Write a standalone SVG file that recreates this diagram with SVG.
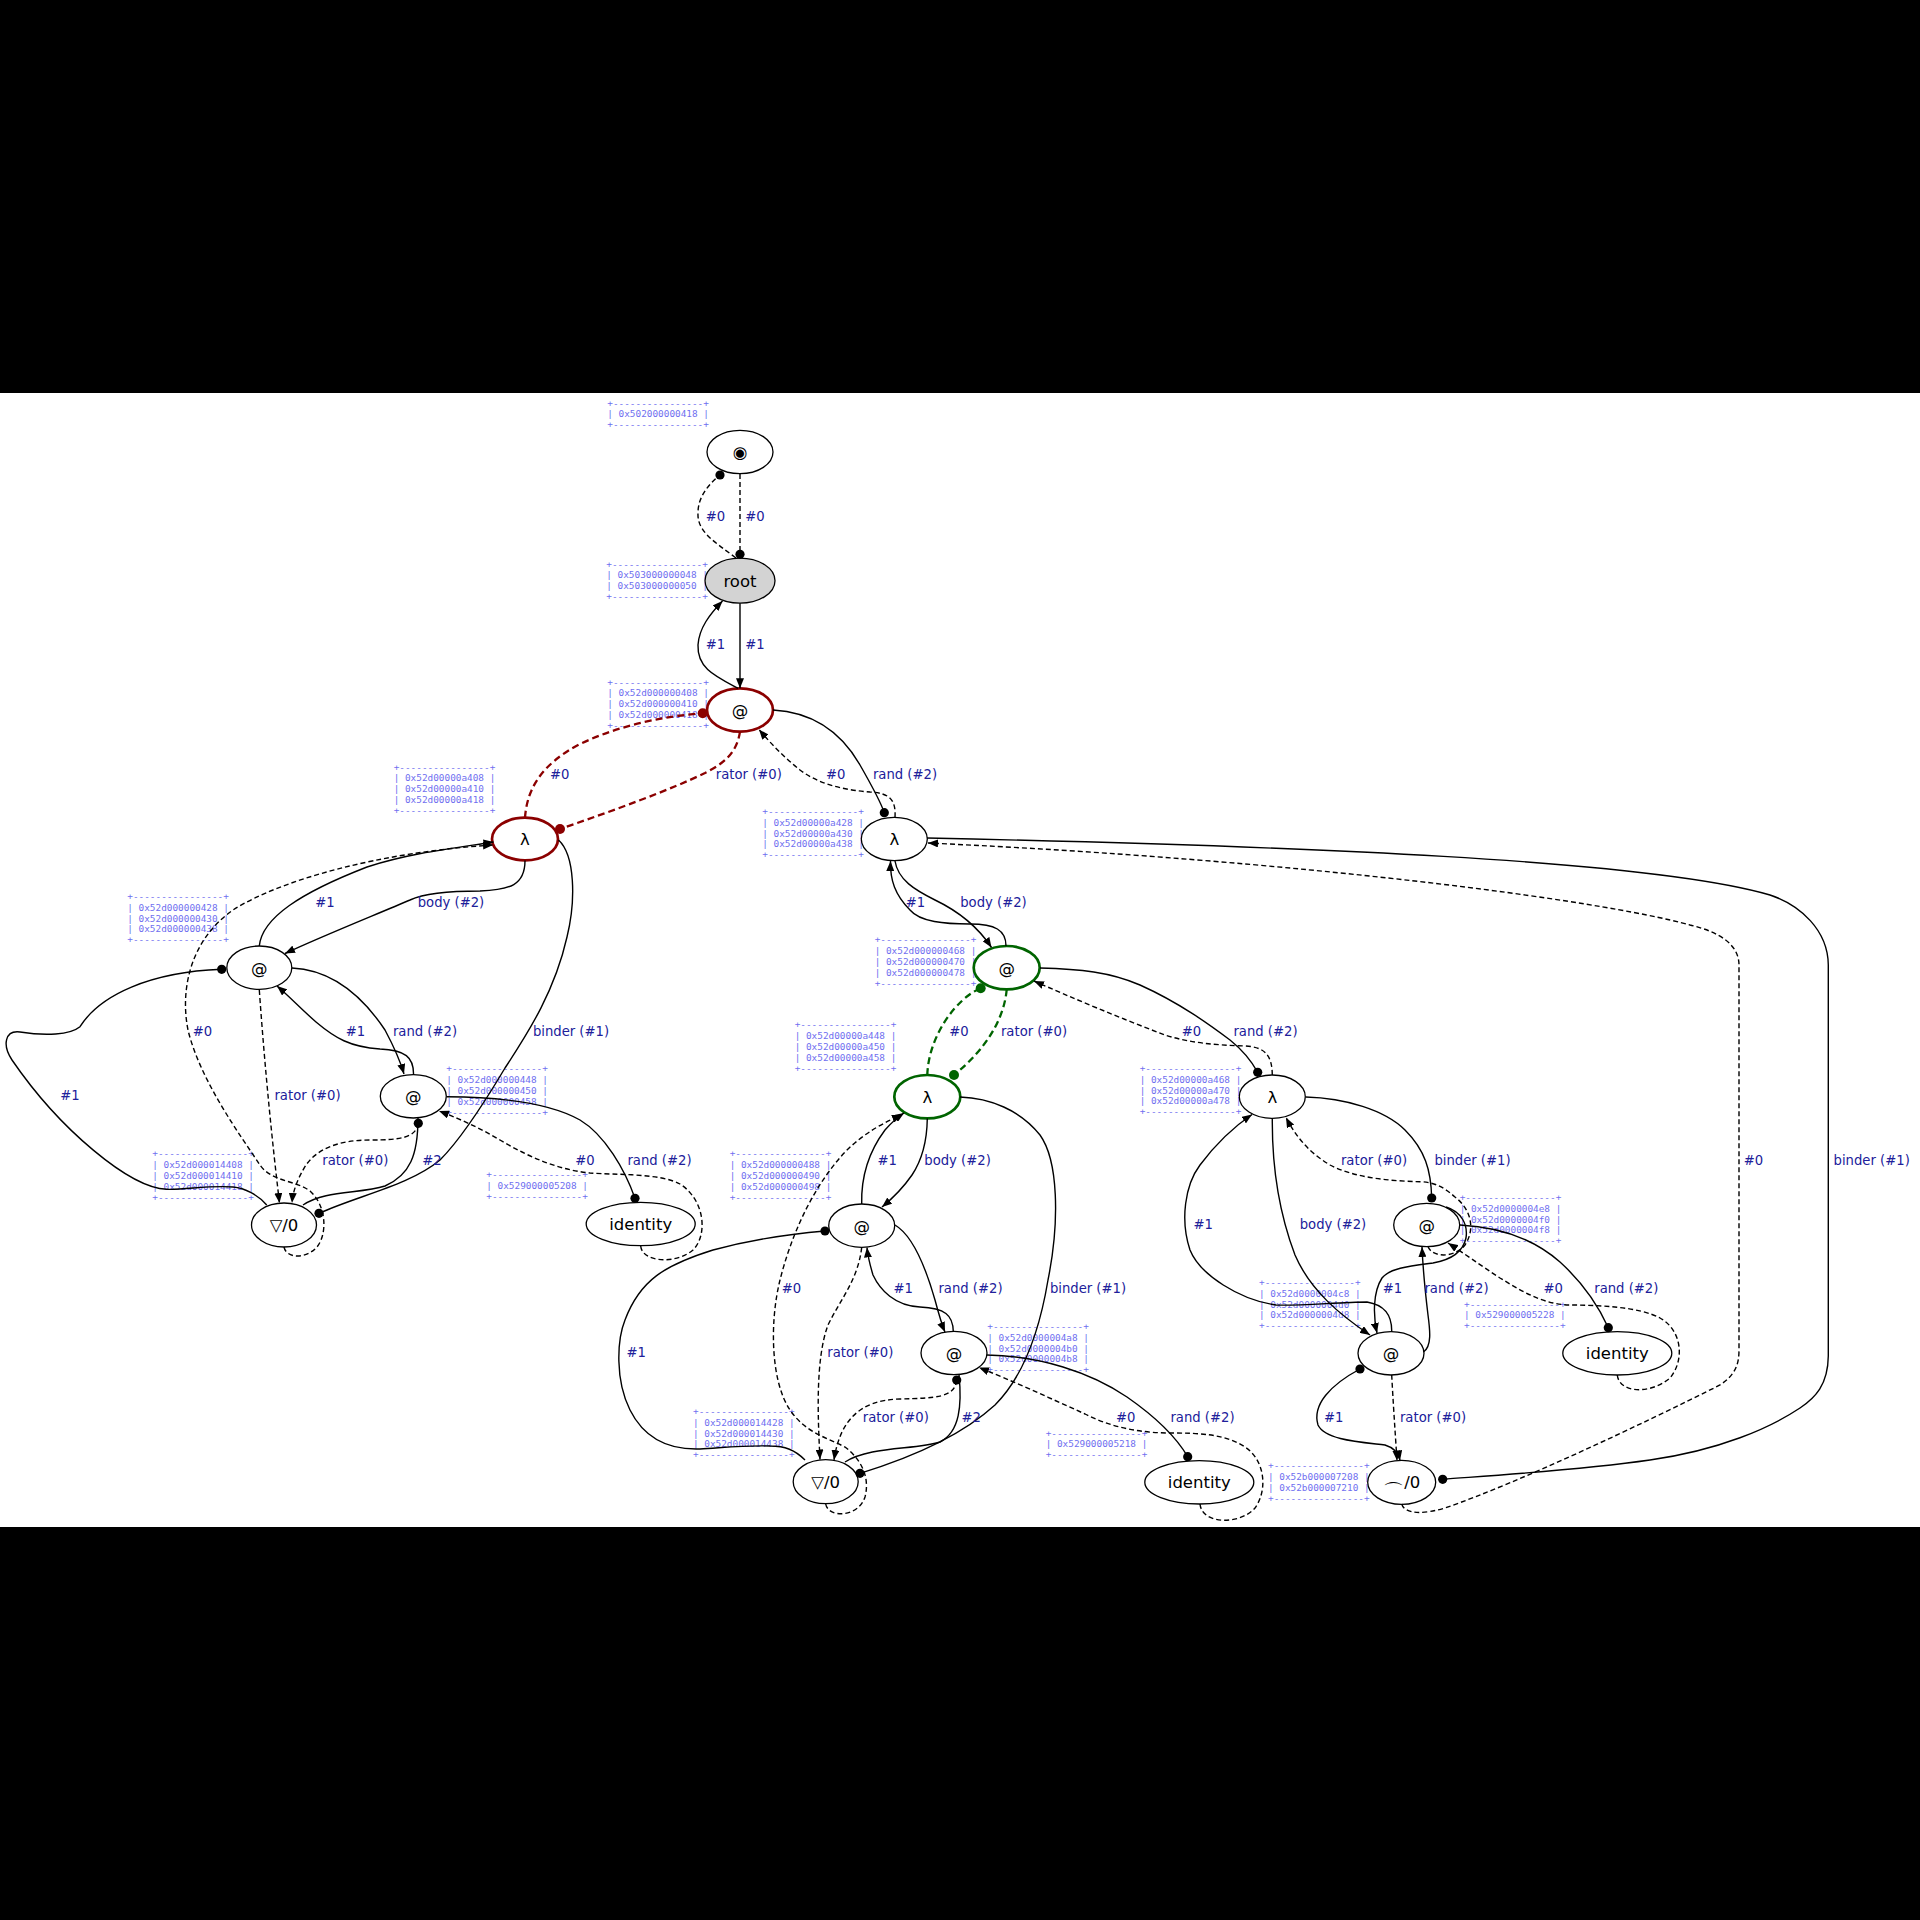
<svg xmlns="http://www.w3.org/2000/svg" width="1920" height="1920" viewBox="0 0 1920 1920">
<style>
.nd{fill:#fff;stroke:#000;stroke-width:1.3}
.ndr{fill:#fff;stroke:#8b0000;stroke-width:2.7}
.ndg{fill:#fff;stroke:#006400;stroke-width:2.7}
.nt{font-family:"DejaVu Sans",sans-serif;font-size:16.5px;fill:#000;text-anchor:middle}
.e{fill:none;stroke:#000;stroke-width:1.4}
.d{fill:none;stroke:#000;stroke-width:1.4;stroke-dasharray:5,3}
.rd{fill:none;stroke:#8b0000;stroke-width:2.3;stroke-dasharray:7,4}
.gd{fill:none;stroke:#006400;stroke-width:2.3;stroke-dasharray:7,4}
.lb{font-family:"DejaVu Sans",sans-serif;font-size:13.2px;fill:#20209a;text-anchor:middle}
.ad{font-family:"DejaVu Sans Mono",monospace;font-size:9.4px;fill:#6f6ff0}
</style>
<defs>
<marker id="arr" viewBox="0 0 10 8" refX="10" refY="4" markerWidth="10" markerHeight="8" markerUnits="userSpaceOnUse" orient="auto"><path d="M0,0 L10,4 L0,8 z" fill="#000"/></marker>
<marker id="dot" viewBox="0 0 10 10" refX="5" refY="5" markerWidth="10" markerHeight="10" markerUnits="userSpaceOnUse"><circle cx="5" cy="5" r="4.6" fill="#000"/></marker>
<marker id="rdot" viewBox="0 0 11 11" refX="5.5" refY="5.5" markerWidth="11" markerHeight="11" markerUnits="userSpaceOnUse"><circle cx="5.5" cy="5.5" r="5" fill="#8b0000"/></marker>
<marker id="gdot" viewBox="0 0 11 11" refX="5.5" refY="5.5" markerWidth="11" markerHeight="11" markerUnits="userSpaceOnUse"><circle cx="5.5" cy="5.5" r="5" fill="#006400"/></marker>
</defs>
<rect width="1920" height="1920" fill="#000"/>
<rect x="0" y="393" width="1920" height="1134" fill="#fff"/>

<g id="addresses" class="ad">
<text><tspan x="607.3" y="406.6">+----------------+</tspan><tspan x="607.3" y="417.4">| 0x502000000418 |</tspan><tspan x="607.3" y="428.2">+----------------+</tspan></text>
<text><tspan x="606.3" y="567.6">+----------------+</tspan><tspan x="606.3" y="578.4">| 0x503000000048 |</tspan><tspan x="606.3" y="589.2">| 0x503000000050 |</tspan><tspan x="606.3" y="600">+----------------+</tspan></text>
<text><tspan x="607.3" y="685.6">+----------------+</tspan><tspan x="607.3" y="696.4">| 0x52d000000408 |</tspan><tspan x="607.3" y="707.2">| 0x52d000000410 |</tspan><tspan x="607.3" y="718">| 0x52d000000418 |</tspan><tspan x="607.3" y="728.8">+----------------+</tspan></text>
<text><tspan x="393.7" y="770.6">+----------------+</tspan><tspan x="393.7" y="781.4">| 0x52d00000a408 |</tspan><tspan x="393.7" y="792.2">| 0x52d00000a410 |</tspan><tspan x="393.7" y="803">| 0x52d00000a418 |</tspan><tspan x="393.7" y="813.8">+----------------+</tspan></text>
<text><tspan x="762.3" y="815">+----------------+</tspan><tspan x="762.3" y="825.8">| 0x52d00000a428 |</tspan><tspan x="762.3" y="836.6">| 0x52d00000a430 |</tspan><tspan x="762.3" y="847.4">| 0x52d00000a438 |</tspan><tspan x="762.3" y="858.2">+----------------+</tspan></text>
<text><tspan x="127.3" y="900">+----------------+</tspan><tspan x="127.3" y="910.8">| 0x52d000000428 |</tspan><tspan x="127.3" y="921.6">| 0x52d000000430 |</tspan><tspan x="127.3" y="932.4">| 0x52d000000438 |</tspan><tspan x="127.3" y="943.2">+----------------+</tspan></text>
<text><tspan x="874.7" y="943.3">+----------------+</tspan><tspan x="874.7" y="954.1">| 0x52d000000468 |</tspan><tspan x="874.7" y="964.9">| 0x52d000000470 |</tspan><tspan x="874.7" y="975.7">| 0x52d000000478 |</tspan><tspan x="874.7" y="986.5">+----------------+</tspan></text>
<text><tspan x="446.3" y="1072.3">+----------------+</tspan><tspan x="446.3" y="1083.1">| 0x52d000000448 |</tspan><tspan x="446.3" y="1093.9">| 0x52d000000450 |</tspan><tspan x="446.3" y="1104.7">| 0x52d000000458 |</tspan><tspan x="446.3" y="1115.5">+----------------+</tspan></text>
<text><tspan x="794.7" y="1028.3">+----------------+</tspan><tspan x="794.7" y="1039.1">| 0x52d00000a448 |</tspan><tspan x="794.7" y="1049.9">| 0x52d00000a450 |</tspan><tspan x="794.7" y="1060.7">| 0x52d00000a458 |</tspan><tspan x="794.7" y="1071.5">+----------------+</tspan></text>
<text><tspan x="1139.7" y="1072">+----------------+</tspan><tspan x="1139.7" y="1082.8">| 0x52d00000a468 |</tspan><tspan x="1139.7" y="1093.6">| 0x52d00000a470 |</tspan><tspan x="1139.7" y="1104.4">| 0x52d00000a478 |</tspan><tspan x="1139.7" y="1115.2">+----------------+</tspan></text>
<text><tspan x="152.3" y="1157.3">+----------------+</tspan><tspan x="152.3" y="1168.1">| 0x52d000014408 |</tspan><tspan x="152.3" y="1178.9">| 0x52d000014410 |</tspan><tspan x="152.3" y="1189.7">| 0x52d000014418 |</tspan><tspan x="152.3" y="1200.5">+----------------+</tspan></text>
<text><tspan x="486.3" y="1178.3">+----------------+</tspan><tspan x="486.3" y="1189.1">| 0x529000005208 |</tspan><tspan x="486.3" y="1199.9">+----------------+</tspan></text>
<text><tspan x="729.7" y="1157.3">+----------------+</tspan><tspan x="729.7" y="1168.1">| 0x52d000000488 |</tspan><tspan x="729.7" y="1178.9">| 0x52d000000490 |</tspan><tspan x="729.7" y="1189.7">| 0x52d000000498 |</tspan><tspan x="729.7" y="1200.5">+----------------+</tspan></text>
<text><tspan x="987.3" y="1330">+----------------+</tspan><tspan x="987.3" y="1340.8">| 0x52d0000004a8 |</tspan><tspan x="987.3" y="1351.6">| 0x52d0000004b0 |</tspan><tspan x="987.3" y="1362.4">| 0x52d0000004b8 |</tspan><tspan x="987.3" y="1373.2">+----------------+</tspan></text>
<text><tspan x="693" y="1415">+----------------+</tspan><tspan x="693" y="1425.8">| 0x52d000014428 |</tspan><tspan x="693" y="1436.6">| 0x52d000014430 |</tspan><tspan x="693" y="1447.4">| 0x52d000014438 |</tspan><tspan x="693" y="1458.2">+----------------+</tspan></text>
<text><tspan x="1045.7" y="1436.6">+----------------+</tspan><tspan x="1045.7" y="1447.4">| 0x529000005218 |</tspan><tspan x="1045.7" y="1458.2">+----------------+</tspan></text>
<text><tspan x="1259" y="1286">+----------------+</tspan><tspan x="1259" y="1296.8">| 0x52d0000004c8 |</tspan><tspan x="1259" y="1307.6">| 0x52d0000004d0 |</tspan><tspan x="1259" y="1318.4">| 0x52d0000004d8 |</tspan><tspan x="1259" y="1329.2">+----------------+</tspan></text>
<text><tspan x="1459.7" y="1201">+----------------+</tspan><tspan x="1459.7" y="1211.8">| 0x52d0000004e8 |</tspan><tspan x="1459.7" y="1222.6">| 0x52d0000004f0 |</tspan><tspan x="1459.7" y="1233.4">| 0x52d0000004f8 |</tspan><tspan x="1459.7" y="1244.2">+----------------+</tspan></text>
<text><tspan x="1464" y="1307.6">+----------------+</tspan><tspan x="1464" y="1318.4">| 0x529000005228 |</tspan><tspan x="1464" y="1329.2">+----------------+</tspan></text>
<text><tspan x="1268" y="1469.3">+----------------+</tspan><tspan x="1268" y="1480.1">| 0x52b000007208 |</tspan><tspan x="1268" y="1490.9">| 0x52b000007210 |</tspan><tspan x="1268" y="1501.7">+----------------+</tspan></text>
</g>

<g id="n_top"><ellipse class="nd" cx="740" cy="452" rx="33" ry="21.7"/><text class="nt" x="740" y="457.8">◉</text></g>
<g id="n_root"><ellipse class="nd" cx="740" cy="580.7" rx="35" ry="22.5" style="fill:#d3d3d3"/><text class="nt" x="740" y="586.5">root</text></g>
<g id="n_app_red"><ellipse class="ndr" cx="740" cy="710" rx="33" ry="21.7"/><text class="nt" x="740" y="715.8">@</text></g>
<g id="n_lam_red"><ellipse class="ndr" cx="525" cy="839" rx="33" ry="21.3"/><text class="nt" x="525" y="844.8">λ</text></g>
<g id="n_lam_tr"><ellipse class="nd" cx="894.3" cy="839" rx="33" ry="21.7"/><text class="nt" x="894.3" y="844.8">λ</text></g>
<g id="n_app_l1"><ellipse class="nd" cx="259.3" cy="967.7" rx="32.5" ry="21.7"/><text class="nt" x="259.3" y="973.5">@</text></g>
<g id="n_app_g"><ellipse class="ndg" cx="1006.7" cy="967.7" rx="33" ry="21.7"/><text class="nt" x="1006.7" y="973.5">@</text></g>
<g id="n_app_l2"><ellipse class="nd" cx="413.3" cy="1096.3" rx="33" ry="21.7"/><text class="nt" x="413.3" y="1102.1">@</text></g>
<g id="n_lam_g"><ellipse class="ndg" cx="927.3" cy="1096.7" rx="33" ry="21.7"/><text class="nt" x="927.3" y="1102.5">λ</text></g>
<g id="n_lam_r"><ellipse class="nd" cx="1272.3" cy="1096.7" rx="33" ry="21.7"/><text class="nt" x="1272.3" y="1102.5">λ</text></g>
<g id="n_dup_l"><ellipse class="nd" cx="284" cy="1225" rx="32.5" ry="22"/><text class="nt" x="284" y="1230.8">▽/0</text></g>
<g id="n_id_l"><ellipse class="nd" cx="640.7" cy="1224" rx="54.5" ry="21.7"/><text class="nt" x="640.7" y="1229.8">identity</text></g>
<g id="n_app_c1"><ellipse class="nd" cx="861.7" cy="1225.7" rx="33" ry="21.7"/><text class="nt" x="861.7" y="1231.5">@</text></g>
<g id="n_app_r1"><ellipse class="nd" cx="1426.7" cy="1225" rx="33" ry="21.7"/><text class="nt" x="1426.7" y="1230.8">@</text></g>
<g id="n_app_c2"><ellipse class="nd" cx="954" cy="1353" rx="33" ry="21.7"/><text class="nt" x="954" y="1358.8">@</text></g>
<g id="n_app_r2"><ellipse class="nd" cx="1391" cy="1353.3" rx="33" ry="21.7"/><text class="nt" x="1391" y="1359.1">@</text></g>
<g id="n_id_r"><ellipse class="nd" cx="1617.3" cy="1353.3" rx="54.5" ry="21.7"/><text class="nt" x="1617.3" y="1359.1">identity</text></g>
<g id="n_dup_c"><ellipse class="nd" cx="825.7" cy="1481.7" rx="32.5" ry="22"/><text class="nt" x="825.7" y="1487.5">▽/0</text></g>
<g id="n_id_c"><ellipse class="nd" cx="1199.3" cy="1482.3" rx="54.5" ry="21.7"/><text class="nt" x="1199.3" y="1488.1">identity</text></g>
<g id="n_era"><ellipse class="nd" cx="1401.7" cy="1482.3" rx="34" ry="22"/><text class="nt" x="1401.7" y="1488.1"><tspan style="font-size:21px" dy="11">⌒</tspan><tspan dy="-11">/0</tspan></text></g>

<g id="connectors">
<path class="d" d="M740,474 L740,554.3" marker-end="url(#dot)"/>
<path class="d" d="M736,558 C715,542 697,532 698,513 C698,497 708,485 720,475" marker-end="url(#dot)"/>
<path class="e" d="M738,688.3 C715,676 697,668 698,645 C699,628 710,614 722.5,601" marker-end="url(#arr)"/>
<path class="e" d="M740,603.2 L740,688.3" marker-end="url(#arr)"/>
<path class="rd" d="M525,817.7 C527,790 540,765 580,744 C620,725 665,716 702.7,713.3" marker-end="url(#rdot)"/>
<path class="rd" d="M740,731.7 C737,752 725,763 705,773 C670,790 615,810 560,829" marker-end="url(#rdot)"/>
<path class="e" d="M773,710 C810,712 840,730 860,765 C872,786 880,800 884.3,812.7" marker-end="url(#dot)"/>
<path class="d" d="M895,817.3 C896,800 890,793 870,792 C845,790 820,785 800,770 C785,758 772,745 759,729.5" marker-end="url(#arr)"/>
<path class="e" d="M259.3,946 C262,918 300,893 367,867 C410,853 455,848 493.5,842" marker-end="url(#arr)"/>
<path class="d" d="M284,1247 C286,1258 305,1260 317,1247 C328,1233 326,1205 310,1191 C295,1180 272,1182 260,1165 C240,1135 200,1080 188,1030 C180,990 190,940 233,910 C280,880 380,852 493,845" marker-end="url(#arr)"/>
<path class="e" d="M525,860.5 C525,885 510,890 480,891 C450,891 425,893 410,900 C375,915 320,937 285,953.5" marker-end="url(#arr)"/>
<path class="e" d="M292,968 C335,970 365,1000 385,1030 C393,1045 400,1060 404,1074" marker-end="url(#arr)"/>
<path class="e" d="M413.5,1075 C414,1057 405,1050 380,1049 C350,1047 335,1038 316,1022 C300,1008 290,997 277,986" marker-end="url(#arr)"/>
<path class="d" d="M259.3,990 C265,1070 272,1140 279.5,1203" marker-end="url(#arr)"/>
<path class="e" d="M266.7,1205 C258,1195 245,1188 233,1187 C210,1185 185,1190 166.7,1189.3 C130,1188 60,1130 12,1060 C2,1045 5,1030 20,1032 C45,1036 70,1035 80,1026.7 C100,995 150,972 221.7,969.3" marker-end="url(#dot)"/>
<path class="d" d="M418.3,1123.3 C416,1138 400,1140 370,1140 C340,1140 318,1148 306,1165 C298,1178 293,1190 292,1203" marker-start="url(#dot)" marker-end="url(#arr)"/>
<path class="e" d="M418,1118 C418,1155 410,1175 385,1186 C360,1194 325,1190 303,1205"/>
<path class="e" d="M558.5,840 C575,855 576,900 567,937 C555,990 530,1030 505,1068 C480,1110 460,1140 440,1160 C410,1185 360,1195 319,1213.3" marker-end="url(#dot)"/>
<path class="e" d="M446.7,1096.7 C500,1097 550,1103 580,1120 C605,1135 625,1170 635,1198.3" marker-end="url(#dot)"/>
<path class="d" d="M640.7,1246 C642,1262 675,1265 693,1250 C708,1235 705,1200 680,1184 C660,1173 615,1175 590,1173 C560,1170 530,1158 500,1140 C480,1128 460,1119 439,1111" marker-end="url(#arr)"/>
<path class="gd" d="M927.3,1075 C928,1050 940,1025 955,1008 C965,997 972,992 980.7,988.3" marker-end="url(#gdot)"/>
<path class="gd" d="M1006.7,989.5 C1004,1020 985,1050 954,1075" marker-end="url(#gdot)"/>
<path class="e" d="M1040,968 C1080,969 1110,972 1140,985 C1180,1003 1210,1025 1230,1040 C1245,1052 1252,1062 1257.7,1072.3" marker-end="url(#dot)"/>
<path class="d" d="M1272.3,1075 C1272,1055 1265,1047 1245,1046 C1215,1045 1190,1043 1165,1035 C1120,1018 1070,997 1034,981" marker-end="url(#arr)"/>
<path class="e" d="M1006,946 C1006,930 995,924 970,924 C945,924 920,922 910,910 C895,895 890,880 890.5,861" marker-end="url(#arr)"/>
<path class="e" d="M895,861 C898,880 915,890 935,900 C960,912 978,927 991.5,947.5" marker-end="url(#arr)"/>
<path class="e" d="M927,838 C1300,846 1650,860 1770,895 C1800,905 1828,930 1828.3,965 L1828.3,1356 C1828,1385 1815,1398 1800,1408 C1770,1428 1720,1450 1650,1460 C1580,1470 1500,1475 1442.7,1479.3" marker-end="url(#dot)"/>
<path class="d" d="M1401.7,1504 C1405,1515 1425,1514 1445,1508 C1520,1482 1640,1425 1720,1385 C1735,1375 1739,1365 1739,1350 L1739,965 C1739,945 1720,932 1690,925 C1600,900 1300,860 928,843" marker-end="url(#arr)"/>
<path class="e" d="M861.7,1204 C861,1175 870,1150 885,1130 C892,1122 898,1117 904,1113" marker-end="url(#arr)"/>
<path class="d" d="M825.7,1504 C828,1518 858,1518 865,1497 C870,1478 862,1460 845,1447 C825,1437 805,1432 790,1410 C770,1380 770,1320 780,1280 C790,1240 810,1190 845,1152 C865,1132 885,1122 902,1115" marker-end="url(#arr)"/>
<path class="e" d="M927.3,1118.5 C927,1140 922,1160 912,1175 C903,1188 893,1198 882,1207" marker-end="url(#arr)"/>
<path class="e" d="M960,1097 C990,1098 1020,1110 1040,1135 C1058,1160 1060,1220 1048,1280 C1038,1340 1020,1380 995,1405 C960,1437 910,1458 860,1473.3" marker-end="url(#dot)"/>
<path class="e" d="M805,1460 C795,1450 785,1446 770,1446 C745,1445 720,1448 700,1449 C670,1450 645,1440 630,1410 C615,1380 617,1340 625,1320 C640,1280 665,1265 713,1250 C750,1240 790,1234 825,1231" marker-end="url(#dot)"/>
<path class="d" d="M861.7,1247.3 C858,1280 840,1300 828,1325 C815,1360 818,1420 820,1459.5" marker-end="url(#arr)"/>
<path class="e" d="M895,1225 C912,1235 925,1265 935,1300 C939,1315 942,1325 945,1332" marker-end="url(#arr)"/>
<path class="e" d="M953.3,1331.5 C953,1315 945,1308 920,1307 C895,1306 880,1290 873,1275 C870,1265 868,1258 867,1247.5" marker-end="url(#arr)"/>
<path class="d" d="M956.7,1380 C955,1398 935,1398 900,1399 C860,1400 840,1420 834,1460" marker-start="url(#dot)" marker-end="url(#arr)"/>
<path class="e" d="M959,1374.5 C962,1405 960,1432 940,1442 C915,1450 870,1446 845,1462"/>
<path class="e" d="M987,1355 C1040,1356 1090,1372 1127,1397 C1150,1413 1175,1435 1187.7,1456.7" marker-end="url(#dot)"/>
<path class="d" d="M1200,1504 C1202,1525 1240,1525 1255,1508 C1268,1490 1265,1460 1245,1447 C1225,1434 1200,1433 1170,1433 C1140,1433 1110,1427 1085,1414 C1050,1398 1010,1380 979,1367.5" marker-end="url(#arr)"/>
<path class="e" d="M1305.7,1097 C1345,1098 1385,1110 1405,1130 C1425,1150 1431,1170 1431.7,1198" marker-end="url(#dot)"/>
<path class="d" d="M1428,1246.5 C1432,1258 1455,1258 1465,1245 C1475,1230 1472,1210 1455,1197 C1445,1188 1435,1182 1420,1181.7 C1390,1181 1355,1178 1330,1165 C1308,1152 1295,1135 1286,1117.5" marker-end="url(#arr)"/>
<path class="e" d="M1391.7,1331.7 C1392,1315 1385,1305 1367,1302 C1340,1302 1300,1306 1276,1305 C1240,1300 1200,1275 1190,1250 C1180,1220 1185,1185 1200,1165 C1215,1145 1232,1128 1252,1114.5" marker-end="url(#arr)"/>
<path class="e" d="M1272.3,1118.5 C1272,1160 1278,1210 1295,1255 C1310,1290 1340,1315 1370,1335" marker-end="url(#arr)"/>
<path class="e" d="M1446,1207 C1462,1212 1468,1225 1466,1238 C1463,1252 1450,1260 1433,1263 C1410,1266 1390,1268 1382,1278 C1373,1292 1373,1315 1377,1333" marker-end="url(#arr)"/>
<path class="e" d="M1423.5,1352 C1432,1346 1430,1330 1428,1315 C1425,1290 1423,1270 1422,1247" marker-end="url(#arr)"/>
<path class="e" d="M1460,1225 C1500,1227 1535,1240 1560,1262 C1582,1282 1598,1305 1608.3,1327.7" marker-end="url(#dot)"/>
<path class="d" d="M1617.3,1375 C1619,1393 1650,1395 1670,1378 C1685,1360 1682,1330 1660,1318 C1640,1307 1600,1305 1566.7,1305 C1540,1303 1520,1290 1500,1278 C1480,1265 1462,1252 1448,1243" marker-end="url(#arr)"/>
<path class="e" d="M1360,1369 C1330,1385 1312,1405 1318,1425 C1325,1440 1360,1442 1385,1445 C1395,1448 1399,1455 1400,1460.5" marker-start="url(#dot)" marker-end="url(#arr)"/>
<path class="d" d="M1391.7,1375 C1393,1400 1395,1430 1397,1460.5" marker-end="url(#arr)"/>
</g>

<g id="edge-labels" class="lb">
<text x="715.5" y="521">#0</text>
<text x="755" y="521">#0</text>
<text x="715.5" y="649.3">#1</text>
<text x="755" y="649.3">#1</text>
<text x="559.7" y="778.6">#0</text>
<text x="748.8" y="778.6">rator (#0)</text>
<text x="835.8" y="778.6">#0</text>
<text x="905" y="778.6">rand (#2)</text>
<text x="325" y="906.8">#1</text>
<text x="451" y="906.8">body (#2)</text>
<text x="915.5" y="906.8">#1</text>
<text x="993.5" y="906.8">body (#2)</text>
<text x="202.5" y="1035.6">#0</text>
<text x="355.5" y="1035.6">#1</text>
<text x="425" y="1035.6">rand (#2)</text>
<text x="571" y="1035.6">binder (#1)</text>
<text x="959" y="1035.6">#0</text>
<text x="1034" y="1035.6">rator (#0)</text>
<text x="1191.5" y="1035.6">#0</text>
<text x="1265.5" y="1035.6">rand (#2)</text>
<text x="70" y="1100.4">#1</text>
<text x="307.5" y="1100.4">rator (#0)</text>
<text x="355.3" y="1164.6">rator (#0)</text>
<text x="432" y="1164.6">#2</text>
<text x="585" y="1164.6">#0</text>
<text x="659.5" y="1164.6">rand (#2)</text>
<text x="887.3" y="1164.6">#1</text>
<text x="957.6" y="1164.6">body (#2)</text>
<text x="1374" y="1164.6">rator (#0)</text>
<text x="1472.5" y="1164.6">binder (#1)</text>
<text x="1753.5" y="1164.6">#0</text>
<text x="1871.7" y="1164.6">binder (#1)</text>
<text x="1203.3" y="1228.6">#1</text>
<text x="1333" y="1228.6">body (#2)</text>
<text x="791.5" y="1292.8">#0</text>
<text x="903.3" y="1292.8">#1</text>
<text x="970.5" y="1292.8">rand (#2)</text>
<text x="1088" y="1292.8">binder (#1)</text>
<text x="1392.5" y="1292.8">#1</text>
<text x="1456.5" y="1292.8">rand (#2)</text>
<text x="1553.3" y="1292.8">#0</text>
<text x="1626.3" y="1292.8">rand (#2)</text>
<text x="636.2" y="1357.4">#1</text>
<text x="860.3" y="1357.4">rator (#0)</text>
<text x="895.8" y="1421.8">rator (#0)</text>
<text x="971.3" y="1421.8">#2</text>
<text x="1125.7" y="1421.8">#0</text>
<text x="1202.5" y="1421.8">rand (#2)</text>
<text x="1333.8" y="1421.8">#1</text>
<text x="1433" y="1421.8">rator (#0)</text>
</g>
</svg>
